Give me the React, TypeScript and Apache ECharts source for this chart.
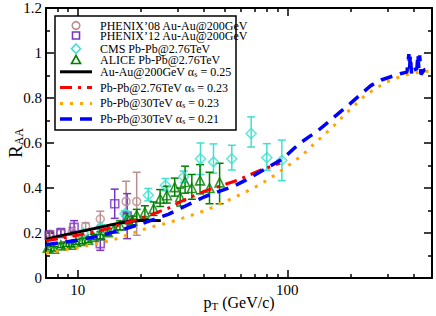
import React, { useEffect, useRef } from "react";
import * as echarts from "echarts";

// ---- data: [pT, R_AA, errDown, errUp] ----
const phenix08 = [
  [7.4, 0.195, 0.015, 0.015],
  [8.3, 0.2, 0.015, 0.015],
  [9.4, 0.205, 0.015, 0.02],
  [10.9, 0.23, 0.015, 0.015],
  [12.8, 0.262, 0.03, 0.035],
  [17.0, 0.34, 0.09, 0.09],
  [19.1, 0.34, 0.15, 0.13],
];
const phenix12 = [
  [7.3, 0.19, 0.02, 0.02],
  [8.3, 0.2, 0.02, 0.02],
  [9.6, 0.225, 0.02, 0.03],
  [12.8, 0.153, 0.03, 0.04],
  [15.0, 0.33, 0.065, 0.065],
  [17.2, 0.275, 0.1, 0.1],
];
const cms = [
  [10.6, 0.2, 0.012, 0.012],
  [12.9, 0.225, 0.012, 0.012],
  [16.8, 0.286, 0.012, 0.012],
  [21.7, 0.368, 0.025, 0.03],
  [26.2, 0.412, 0.025, 0.03],
  [32.0, 0.45, 0.025, 0.025],
  [38.5, 0.53, 0.07, 0.07],
  [44.4, 0.516, 0.05, 0.08],
  [54.3, 0.53, 0.05, 0.06],
  [67.2, 0.642, 0.06, 0.074],
  [79.8, 0.535, 0.056, 0.062],
  [94.1, 0.523, 0.09, 0.09],
];
const alice = [
  [7.2, 0.135, 0.01, 0.01],
  [7.7, 0.13, 0.01, 0.01],
  [8.3, 0.145, 0.01, 0.01],
  [8.8, 0.15, 0.01, 0.01],
  [9.3, 0.148, 0.01, 0.01],
  [9.8, 0.16, 0.01, 0.01],
  [10.5, 0.165, 0.012, 0.012],
  [11.2, 0.17, 0.012, 0.012],
  [11.9, 0.182, 0.012, 0.012],
  [12.8, 0.19, 0.015, 0.015],
  [13.9, 0.204, 0.015, 0.015],
  [14.9, 0.22, 0.018, 0.018],
  [15.9, 0.234, 0.02, 0.02],
  [17.2, 0.264, 0.022, 0.022],
  [18.2, 0.255, 0.02, 0.02],
  [19.1, 0.28, 0.025, 0.025],
  [20.9, 0.293, 0.028, 0.028],
  [23.0, 0.308, 0.03, 0.03],
  [24.7, 0.353, 0.035, 0.04],
  [26.6, 0.368, 0.035, 0.04],
  [29.0, 0.404, 0.04, 0.04],
  [30.8, 0.36, 0.04, 0.04],
  [32.5, 0.427, 0.05, 0.07],
  [35.0, 0.4, 0.05, 0.06],
  [38.3, 0.434, 0.06, 0.07],
  [42.5, 0.4, 0.07, 0.07],
  [47.5, 0.425, 0.095, 0.085],
];

// ---- theory curves: [pT, R_AA] ----
const auau025 = [
  [7.05, 0.171], [8, 0.185], [10, 0.204], [12, 0.22], [14, 0.234], [16, 0.245],
  [18, 0.252], [20, 0.256], [22, 0.257], [24.9, 0.255],
];
const pbpb276 = [
  [7.05, 0.165], [10, 0.19], [13, 0.212], [17, 0.245], [20, 0.265], [27, 0.31],
  [31, 0.34], [40, 0.385], [56, 0.43], [63, 0.45], [75, 0.48], [92, 0.51],
];
const pbpb30a023 = [
  [7.05, 0.11], [8, 0.12], [10, 0.135], [12, 0.15], [15, 0.172], [19, 0.205],
  [22, 0.225], [27, 0.245], [36, 0.283], [42, 0.305], [48, 0.332], [55, 0.355],
  [64, 0.385], [73, 0.412], [83, 0.444], [94, 0.479], [107, 0.516], [121, 0.556],
  [135, 0.599], [151, 0.639], [169, 0.682], [188, 0.728], [210, 0.768], [234, 0.81],
  [257, 0.835], [292, 0.868], [332, 0.889], [384, 0.908], [430, 0.916], [490, 0.92],
];
const pbpb30a021 = [
  [7.05, 0.148], [10, 0.168], [13, 0.19], [17, 0.22], [20, 0.24], [27, 0.283],
  [31, 0.31], [40, 0.36], [56, 0.41], [63, 0.434], [80, 0.49], [95, 0.53],
  [115, 0.6], [140, 0.655], [160, 0.7], [200, 0.776], [250, 0.855], [280, 0.88],
  [345, 0.908], [372, 0.915], [380, 0.995], [383, 0.93], [386, 0.99], [392, 0.9],
  [400, 0.925], [415, 0.93], [420, 0.995], [424, 0.93], [428, 0.99], [434, 0.905],
  [450, 0.925], [490, 0.935],
];

const majorTicks = [10, 100];
const minorTicks = [8, 9, 20, 30, 40, 50, 60, 70, 80, 90, 200, 300, 400];
const xMin = 7.05;
const xMax = 490;

const FONT = "Liberation Serif";
const C08 = "#bc8f8f";
const C12 = "#7b34c4";
const CCMS = "#40e0d0";
const CALICE = "#008000";

function errSeries(data: number[][], color: string) {
  return {
    type: "custom",
    data: data.map((d) => [d[0], d[1], d[1] - d[2], d[1] + d[3]]),
    encode: { x: 0, y: 1 },
    clip: true,
    renderItem: (params: any, api: any) => {
      const x = api.value(0);
      const a = api.coord([x, api.value(2)]);
      const b = api.coord([x, api.value(3)]);
      const w = 4;
      const style = { stroke: color, lineWidth: 1.5, fill: "none" };
      return {
        type: "group",
        children: [
          { type: "line", shape: { x1: a[0], y1: a[1], x2: b[0], y2: b[1] }, style },
          { type: "line", shape: { x1: a[0] - w, y1: a[1], x2: a[0] + w, y2: a[1] }, style },
          { type: "line", shape: { x1: b[0] - w, y1: b[1], x2: b[0] + w, y2: b[1] }, style },
        ],
      };
    },
  };
}

function pointSeries(data: number[][], color: string, symbol: string, size: number) {
  return {
    type: "scatter",
    data: data.map((d) => [d[0], d[1]]),
    symbol,
    symbolSize: size,
    itemStyle: { color: "rgba(0,0,0,0)", borderColor: color, borderWidth: 1.6 },
  };
}

function lineSeries(data: number[][], color: string, type: any, width: number) {
  return {
    type: "line",
    data,
    showSymbol: false,
    symbol: "none",
    clip: true,
    lineStyle: { color, type, width, cap: "butt" },
  };
}

function xAxisCfg(position: string, ticks: number[], len: number, labels: boolean, line: boolean) {
  return {
    type: "log",
    logBase: 10,
    min: xMin,
    max: xMax,
    position,
    axisLine: { show: line, lineStyle: { color: "#000", width: 2 } },
    axisTick: { show: true, inside: true, length: len, customValues: ticks, lineStyle: { color: "#000", width: 1.5 } },
    axisLabel: {
      show: labels,
      customValues: ticks,
      margin: 4,
      color: "#000",
      fontFamily: FONT,
      fontSize: 15,
    },
    minorTick: { show: false },
    splitLine: { show: false },
  };
}

const subStyle = (size: number, lh: number) => ({
  fontFamily: FONT,
  fontSize: size,
  color: "#000",
  verticalAlign: "bottom",
  lineHeight: lh,
});

export default function App() {
  const ref = useRef<HTMLDivElement>(null);
  useEffect(() => {
    if (!ref.current) return;
    const chart = echarts.init(ref.current, null, { renderer: "svg" });

    const legendText = (y: number, text: string) => ({
      type: "text",
      x: 100,
      y,
      z: 101,
      style: {
        text,
        fontFamily: FONT,
        fontSize: 12,
        fill: "#000",
        verticalAlign: "middle",
        align: "left",
        rich: {
          m: { fontFamily: FONT, fontSize: 12, color: "#000", lineHeight: 12 },
          s: subStyle(8, 5),
        },
      },
    });
    const legendLine = (y: number, color: string, dash: any, width: number) => ({
      type: "line",
      z: 101,
      shape: { x1: 60, y1: y, x2: 92, y2: y },
      style: { stroke: color, lineWidth: width, lineDash: dash },
    });

    const option: any = {
      animation: false,
      grid: { left: 46, right: 4, top: 8, bottom: 38, containLabel: false, outerBoundsMode: "none" },
      xAxis: [
        {
          ...xAxisCfg("bottom", majorTicks, 8, true, true),
          name: "{m|p}{s|T}{m| (GeV/c)}",
          nameLocation: "middle",
          nameGap: 16,
          nameMoveOverlap: false,
          nameTextStyle: {
            fontFamily: FONT,
            fontSize: 16,
            color: "#000",
            verticalAlign: "top",
            rich: {
              m: { fontFamily: FONT, fontSize: 16, color: "#000", lineHeight: 17 },
              s: subStyle(11, 7),
            },
          },
        },
        xAxisCfg("bottom", minorTicks, 4, false, false),
        xAxisCfg("top", majorTicks, 8, false, true),
        xAxisCfg("top", minorTicks, 4, false, false),
      ],
      yAxis: [
        {
          type: "value",
          min: 0,
          max: 1.2,
          interval: 0.2,
          position: "left",
          name: "{m|R}{s|AA}",
          nameLocation: "middle",
          nameRotate: 90,
          nameGap: 21,
          nameMoveOverlap: false,
          nameTextStyle: {
            fontFamily: FONT,
            fontSize: 19,
            color: "#000",
            rich: {
              m: { fontFamily: FONT, fontSize: 19, color: "#000", lineHeight: 20 },
              s: subStyle(12, 8),
            },
          },
          axisLine: { show: true, lineStyle: { color: "#000", width: 2 } },
          axisTick: { show: true, inside: true, length: 8, lineStyle: { color: "#000", width: 1.5 } },
          minorTick: { show: true, splitNumber: 2, length: 4, lineStyle: { color: "#000", width: 1.5 } },
          axisLabel: {
            margin: 4,
            color: "#000",
            fontFamily: FONT,
            fontSize: 15,
            formatter: (v: number) => String(Number(v.toFixed(1))),
          },
          splitLine: { show: false },
        },
        {
          type: "value",
          min: 0,
          max: 1.2,
          interval: 0.2,
          position: "right",
          axisLine: { show: true, lineStyle: { color: "#000", width: 2 } },
          axisTick: { show: true, inside: true, length: 8, lineStyle: { color: "#000", width: 1.5 } },
          minorTick: { show: true, splitNumber: 2, length: 4, lineStyle: { color: "#000", width: 1.5 } },
          axisLabel: { show: false },
          splitLine: { show: false },
        },
      ],
      series: [
        errSeries(phenix08, C08),
        pointSeries(phenix08, C08, "circle", 8),
        errSeries(phenix12, C12),
        pointSeries(phenix12, C12, "rect", 8),
        errSeries(cms, CCMS),
        pointSeries(cms, CCMS, "diamond", 10),
        errSeries(alice, CALICE),
        pointSeries(alice, CALICE, "triangle", 9),
        lineSeries(auau025, "#000000", "solid", 3),
        lineSeries(pbpb276, "#ff0000", [12, 6, 3, 6], 3),
        lineSeries(pbpb30a023, "#ffa500", [3, 7], 3),
        lineSeries(pbpb30a021, "#0000ff", [12, 8], 3.5),
      ],
      graphic: [
        {
          type: "rect",
          z: 100,
          shape: { x: 55, y: 16, width: 181, height: 114 },
          style: { fill: "#fff", stroke: "#000", lineWidth: 1.5 },
        },
        { type: "circle", z: 101, shape: { cx: 76, cy: 25.5, r: 3.8 }, style: { fill: "none", stroke: C08, lineWidth: 1.6 } },
        { type: "rect", z: 101, shape: { x: 72.5, y: 32, width: 7, height: 7 }, style: { fill: "none", stroke: C12, lineWidth: 1.6 } },
        {
          type: "polygon",
          z: 101,
          shape: { points: [[76, 44], [80.5, 48.7], [76, 53.4], [71.5, 48.7]] },
          style: { fill: "none", stroke: CCMS, lineWidth: 1.6 },
        },
        {
          type: "polygon",
          z: 101,
          shape: { points: [[76, 55.5], [80.5, 63.5], [71.5, 63.5]] },
          style: { fill: "none", stroke: CALICE, lineWidth: 1.6 },
        },
        legendLine(71.8, "#000", null, 3),
        legendLine(87.5, "#ff0000", [12, 6, 3, 6], 3),
        legendLine(103.5, "#ffa500", [3, 7], 3),
        legendLine(119, "#0000ff", [12, 8], 3.5),
        legendText(25.5, "{m|PHENIX’08 Au-Au@200GeV}"),
        legendText(35.5, "{m|PHENIX’12 Au-Au@200GeV}"),
        legendText(49, "{m|CMS Pb-Pb@2.76TeV}"),
        legendText(59.7, "{m|ALICE Pb-Pb@2.76TeV}"),
        legendText(72, "{m|Au-Au@200GeV α}{s|s}{m| = 0.25}"),
        legendText(87.5, "{m|Pb-Pb@2.76TeV α}{s|s}{m| = 0.23}"),
        legendText(103, "{m|Pb-Pb@30TeV α}{s|s}{m| = 0.23}"),
        legendText(119, "{m|Pb-Pb@30TeV α}{s|s}{m| = 0.21}"),
      ],
    };
    chart.setOption(option);
    return () => chart.dispose();
  }, []);
  return (
    <div
      ref={ref}
      style={{ position: "absolute", left: 0, top: 0, width: 436, height: 316, background: "#fff" }}
    />
  );
}
